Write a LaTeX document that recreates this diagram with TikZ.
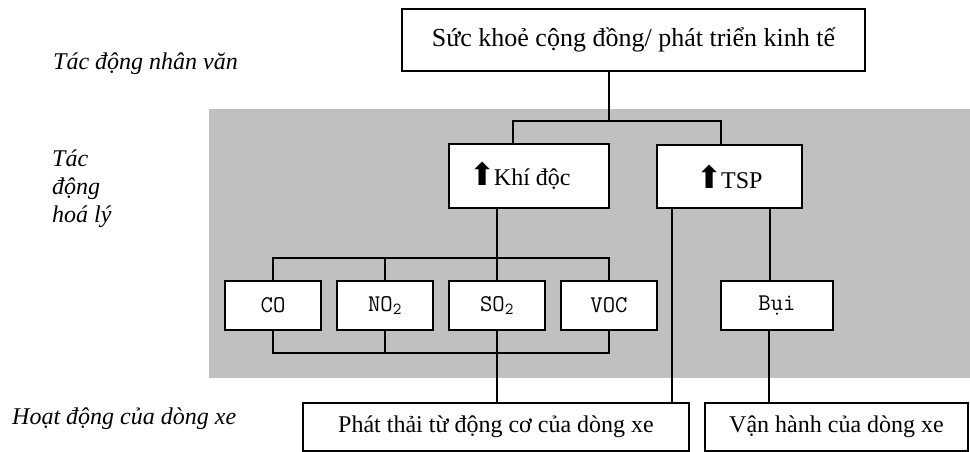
\documentclass[tikz,border=0pt]{standalone}
\usepackage{fontspec}
\setmainfont{Liberation Serif}
\newfontfamily\arrowfont[Scale=1.3]{DejaVu Sans}
\usepackage{xcolor}
\definecolor{panel}{HTML}{C0C0C0}
\usetikzlibrary{calc,positioning}

\newcommand{\uparr}{{\arrowfont ⬆}\kern-1.5pt}

\begin{document}
\begin{tikzpicture}[
  x=1pt,y=1pt,
  node distance=14.2pt,
  box/.style={draw=black,line width=1.8pt,fill=white,inner sep=0pt,
              font=\fontsize{24}{28}\selectfont,align=center},
  gasbox/.style={box,font=\ttfamily\fontsize{24}{28}\selectfont,
                 minimum width=96pt,minimum height=49pt},
  sidetext/.style={font=\itshape\fontsize{24}{28}\selectfont,inner sep=0pt,align=left},
  link/.style={line width=1.6pt}
]
  \useasboundingbox (0,0) rectangle (970,-452);
  \fill[panel] (209,-109) rectangle (970,-378);

  % levels on the left
  \node[sidetext,anchor=base west] (hum) at (53,-70) {Tác động nhân văn};
  \node[sidetext,anchor=north west] (phys) at (52,-150) {Tác\\động\\hoá lý};
  \node[sidetext,anchor=base west] (traf) at (12,-424) {Hoạt động của dòng xe};

  \node[box,minimum width=463pt,minimum height=62pt,font=\fontsize{26}{30}\selectfont] (top) at (633.5,-40) {Sức khoẻ cộng đồng/ phát triển kinh tế};
  \node[box,minimum width=160pt,minimum height=64pt] (khi) at (529,-176) {\uparr Khí độc\hspace*{18pt}};
  \node[box,minimum width=145pt,minimum height=63pt] (tsp) at (729.5,-176.5) {\uparr TSP};
  \node[gasbox] (co) at (273,-305.5) {CO};
  \node[gasbox,right=of co] (no) {NO\textsubscript{2}};
  \node[gasbox,right=of no] (so) {SO\textsubscript{2}};
  \node[gasbox,right=of so] (voc) {VOC};
  \node[gasbox,minimum width=112pt] (bui) at (777,-305.5) {Bụi};
  \node[box,minimum width=386pt,minimum height=48pt] (phat) at (496,-427) {Phát thải từ động cơ của dòng xe};
  \node[box,minimum width=263pt,minimum height=48pt] (vh) at (836.5,-427) {Vận hành của dòng xe};

  % connectors
  \coordinate (hub) at (609,-121);
  \coordinate (gtop) at (0,-258);
  \coordinate (gbot) at (0,-353);
  \draw[link] (top.south -| hub) -- (hub);
  \draw[link] ([xshift=-16pt]khi.north) |- (hub) -| ([xshift=-8.5pt]tsp.north);
  \draw[link] (khi.south -| so) -- (so.north);
  \draw[link] (co.north) |- (voc.north |- gtop) -- (voc.north);
  \draw[link] (no.north) -- (no.north |- gtop);
  \draw[link] (co.south) |- (voc.south |- gbot) -- (voc.south);
  \draw[link] (no.south) -- (no.south |- gbot);
  \draw[link] (so.south) -- (so.south |- phat.north);
  \draw[link] ([xshift=16pt]tsp.south west) -- ([xshift=16pt]tsp.south west |- phat.north);
  \draw[link] ([xshift=-33pt]tsp.south east) -- ([xshift=-33pt]tsp.south east |- bui.north);
  \draw[link] ([xshift=-8pt]bui.south) -- ([xshift=-8pt]bui.south |- vh.north);
\end{tikzpicture}
\end{document}
